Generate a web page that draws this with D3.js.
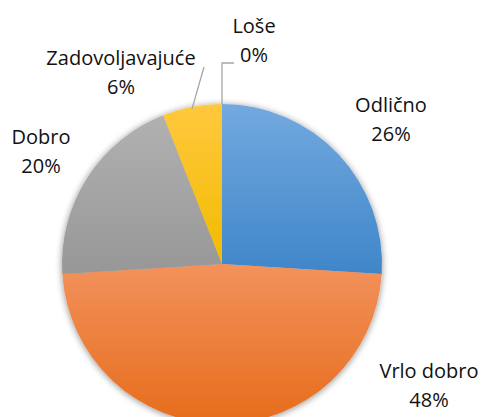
<!DOCTYPE html>
<html>
<head>
<meta charset="utf-8">
<script src="https://cdn.jsdelivr.net/npm/d3@7"></script>
<style>
  html, body { margin: 0; padding: 0; background: #fff; }
  svg { display: block; }
</style>
</head>
<body>
<div id="vis"></div>
<script>
const width = 483;
const height = 417;

// data
const categories = ["Odlično", "Vrlo dobro", "Dobro", "Zadovoljavajuće", "Loše"];
const values = [26, 48, 20, 6, 0];
const percentLabels = ["26%", "48%", "20%", "6%", "0%"];

// gradient colours (top, bottom) per slice
const colorsTop = ["#73a9df", "#f2925c", "#b1b1b1", "#ffc83e"];
const colorsBottom = ["#3f86c9", "#e76c1b", "#979797", "#f2bb00"];

const cx = 222, cy = 264, radius = 160;

// where Excel put each label (centre x, first baseline y)
const labelPos = [[391, 112], [429, 378], [41, 144], [121, 65], [254, 33]];

const svg = d3.select("#vis")
    .append("svg")
    .attr("width", width)
    .attr("height", height);

const defs = svg.append("defs");

const shadow = defs.append("filter")
    .attr("id", "shadow")
    .attr("x", "-20%").attr("y", "-20%")
    .attr("width", "140%").attr("height", "140%");
shadow.append("feGaussianBlur").attr("in", "SourceAlpha").attr("stdDeviation", 3.5);
shadow.append("feOffset").attr("dx", 0).attr("dy", 1).attr("result", "blur");
shadow.append("feComponentTransfer").append("feFuncA").attr("type", "linear").attr("slope", 0.45);
const merge = shadow.append("feMerge");
merge.append("feMergeNode");
merge.append("feMergeNode").attr("in", "SourceGraphic");

colorsTop.forEach((c, i) => {
    const g = defs.append("linearGradient")
        .attr("id", "grad" + i)
        .attr("x1", 0).attr("y1", 0)
        .attr("x2", 0).attr("y2", 1);
    g.append("stop").attr("offset", "0%").attr("stop-color", c);
    g.append("stop").attr("offset", "100%").attr("stop-color", colorsBottom[i]);
});

const pie = d3.pie().sort(null).value(d => d);
const arcs = pie(values);
const arc = d3.arc().innerRadius(0).outerRadius(radius);

const pieG = svg.append("g")
    .attr("transform", `translate(${cx},${cy})`)
    .attr("filter", "url(#shadow)");

pieG.selectAll("path")
    .data(arcs.filter(d => d.value > 0))
    .enter()
    .append("path")
    .attr("d", arc)
    .attr("fill", d => `url(#grad${d.index})`);

// leader lines for the two small slices
const edge = d3.arc().innerRadius(radius).outerRadius(radius);
const zadEdge = edge.centroid(arcs[3]);
const loseEdge = edge.centroid(arcs[4]);

svg.append("path")
    .attr("d", `M${cx + zadEdge[0]},${cy + zadEdge[1] + 2}L204,67`)
    .attr("fill", "none")
    .attr("stroke", "#a6a6a6")
    .attr("stroke-width", 1.3);

svg.append("path")
    .attr("d", `M${cx + loseEdge[0]},${cy + loseEdge[1]}L${cx + loseEdge[0]},63L234,63`)
    .attr("fill", "none")
    .attr("stroke", "#a6a6a6")
    .attr("stroke-width", 1.3);

const labels = svg.selectAll(".label")
    .data(categories)
    .enter()
    .append("text")
    .attr("class", "label")
    .attr("text-anchor", "middle")
    .style("font-family", "'Open Sans', 'Noto Sans', sans-serif")
    .style("font-size", "20px")
    .style("fill", "#111");

labels.append("tspan")
    .attr("x", (d, i) => labelPos[i][0])
    .attr("y", (d, i) => labelPos[i][1])
    .text(d => d);

labels.append("tspan")
    .attr("x", (d, i) => labelPos[i][0])
    .attr("y", (d, i) => labelPos[i][1] + 29)
    .text((d, i) => percentLabels[i]);
</script>
</body>
</html>
